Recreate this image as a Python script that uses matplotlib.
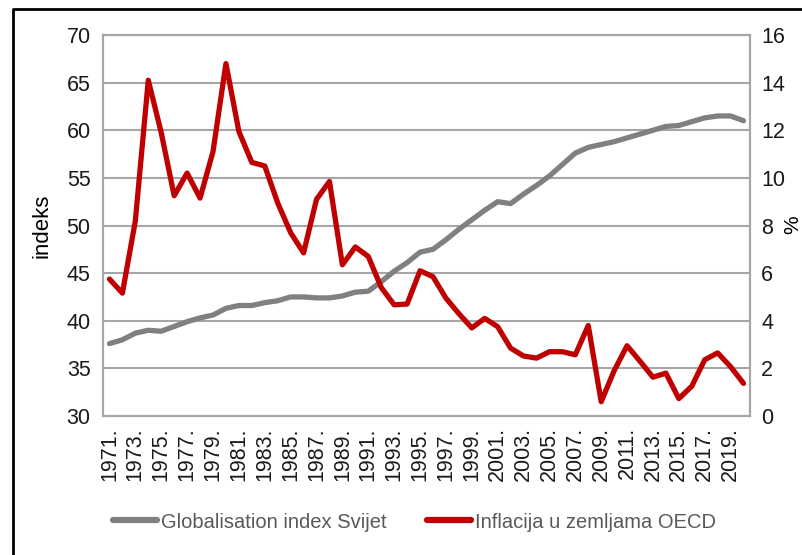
import numpy as np
import matplotlib.pyplot as plt
from matplotlib.lines import Line2D

plt.rcParams['font.family'] = ['Liberation Sans', 'DejaVu Sans']

# data
years = list(range(1971, 2021))

glob_index = [37.6, 38.0, 38.7, 39.0, 38.9, 39.4, 39.9, 40.3, 40.6, 41.3,
              41.6, 41.6, 41.9, 42.1, 42.5, 42.5, 42.4, 42.4, 42.6, 43.0,
              43.1, 44.1, 45.2, 46.1, 47.2, 47.5, 48.5, 49.6, 50.6, 51.6,
              52.5, 52.3, 53.3, 54.2, 55.2, 56.4, 57.6, 58.2, 58.5, 58.8,
              59.2, 59.6, 60.0, 60.4, 60.5, 60.9, 61.3, 61.5, 61.5, 61.0]

inflation = [5.75, 5.16, 8.2, 14.1, 11.9, 9.25, 10.2, 9.15, 11.1, 14.8,
             11.95, 10.65, 10.5, 8.95, 7.7, 6.85, 9.1, 9.85, 6.35, 7.1,
             6.7, 5.4, 4.67, 4.7, 6.1, 5.85, 4.95, 4.3, 3.7, 4.1,
             3.75, 2.85, 2.52, 2.43, 2.7, 2.7, 2.57, 3.8, 0.6, 1.9,
             2.95, 2.3, 1.63, 1.8, 0.73, 1.25, 2.36, 2.65, 2.07, 1.37]

grey = '#808080'
red = '#C00000'
axcol = '#A6A6A6'

fig = plt.figure(figsize=(8.02, 5.55), dpi=100)
ax = fig.add_axes([103/802, 1 - 416/555, 647/802, 381/555])
ax2 = ax.twinx()

x = np.arange(len(years))
ax.plot(x, glob_index, color=grey, lw=3.8, solid_capstyle='round')
ax2.plot(x, inflation, color=red, lw=3.8, solid_capstyle='round')

ax.set_xlim(-0.5, len(years) - 0.5)
ax.set_ylim(30, 70)
ax.set_yticks(np.arange(30, 71, 5))
ax2.set_ylim(0, 16)
ax2.set_yticks(np.arange(0, 17, 2))

ax.set_xticks(x[::2])
ax.set_xticklabels([f'{y}.' for y in years[::2]], rotation=90)

ax.grid(axis='y', color=axcol, lw=1.5)
ax.set_axisbelow(True)
for a in (ax, ax2):
    for s in a.spines.values():
        s.set_color(axcol)
        s.set_linewidth(1.5)
    a.tick_params(length=0, labelsize=15.5, labelcolor='#1a1a1a')
ax.tick_params(axis='y', pad=9)
ax.tick_params(axis='x', pad=8)
ax2.tick_params(axis='y', pad=8)

ax.set_ylabel('indeks', fontsize=16, labelpad=10)
# '%' sits right at the edge of the picture, as in the reference
fig.text(793/802, 1 - 225/555, '%', rotation=90, fontsize=15,
         ha='center', va='center')

handles = [Line2D([], [], color=grey, lw=4.5, solid_capstyle='round'),
           Line2D([], [], color=red, lw=4.5, solid_capstyle='round')]
fig.legend(handles, ['Globalisation index Svijet', 'Inflacija u zemljama OECD'],
           loc='center', bbox_to_anchor=(0.517, 1 - 522/555), ncol=2,
           frameon=False, fontsize=14.5, handlelength=2.2, handletextpad=0.2,
           columnspacing=2.0, labelcolor='#595959')

# black frame at the top and left edge of the picture
fig.add_artist(Line2D([13/802, 13/802, 1], [0, 1 - 9/555, 1 - 9/555],
                      transform=fig.transFigure, color='black', lw=2))

fig.savefig('out.png', dpi=100)
